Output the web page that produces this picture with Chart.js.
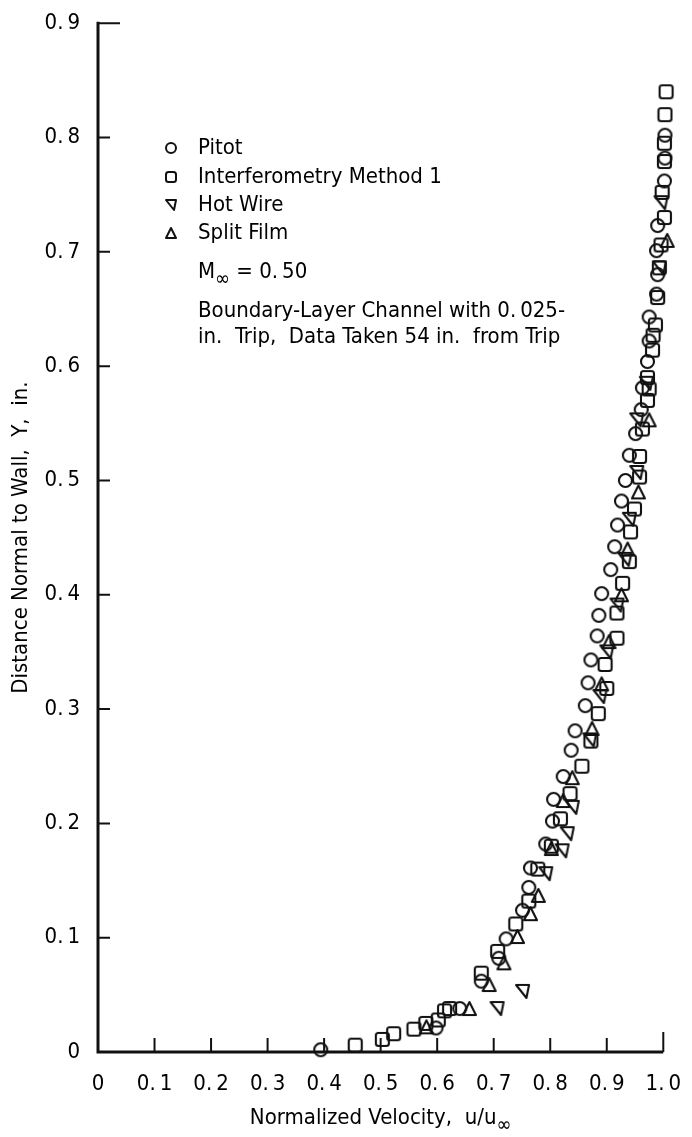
<!DOCTYPE html>
<html>
<head>
<meta charset="utf-8">
<script src="https://cdn.jsdelivr.net/npm/chart.js@4.4.0/dist/chart.umd.min.js"></script>
<style>
  html, body { margin: 0; padding: 0; background: #fff; }
  #wrap { width: 692px; height: 1137px; position: relative; }
</style>
</head>
<body>
<div id="wrap"><canvas id="c"></canvas></div>
<script>
// velocity profile, M = 0.50 boundary-layer channel

const xTicks = [0, 0.1, 0.2, 0.3, 0.4, 0.5, 0.6, 0.7, 0.8, 0.9, 1.0];
const yTicks = [0, 0.1, 0.2, 0.3, 0.4, 0.5, 0.6, 0.7, 0.8, 0.9];

const pitot = [
  [0.394, 0.002], [0.598, 0.021], [0.640, 0.038], [0.678, 0.062], [0.709, 0.082],
  [0.722, 0.099], [0.751, 0.124], [0.762, 0.144], [0.765, 0.161], [0.792, 0.182],
  [0.804, 0.202], [0.806, 0.221], [0.823, 0.241], [0.837, 0.264], [0.844, 0.281],
  [0.862, 0.303], [0.867, 0.323], [0.872, 0.343], [0.883, 0.364], [0.886, 0.382],
  [0.891, 0.401], [0.907, 0.422], [0.914, 0.442], [0.919, 0.461], [0.926, 0.482],
  [0.933, 0.500], [0.940, 0.522], [0.951, 0.541], [0.961, 0.562], [0.963, 0.581],
  [0.972, 0.604], [0.975, 0.622], [0.975, 0.643], [0.988, 0.663], [0.990, 0.680],
  [0.988, 0.701], [0.990, 0.723], [1.002, 0.762], [1.003, 0.782], [1.003, 0.802]
];

const interferometry = [
  [0.455, 0.006], [0.503, 0.011], [0.523, 0.016], [0.559, 0.020], [0.580, 0.025],
  [0.602, 0.028], [0.613, 0.036], [0.622, 0.038], [0.678, 0.069], [0.707, 0.088],
  [0.739, 0.112], [0.762, 0.132], [0.778, 0.160], [0.802, 0.180], [0.818, 0.204],
  [0.835, 0.226], [0.856, 0.250], [0.872, 0.272], [0.885, 0.296], [0.900, 0.318],
  [0.897, 0.339], [0.918, 0.362], [0.918, 0.384], [0.928, 0.410], [0.940, 0.429],
  [0.942, 0.455], [0.949, 0.475], [0.958, 0.503], [0.958, 0.521], [0.963, 0.545],
  [0.972, 0.570], [0.975, 0.580], [0.972, 0.590], [0.981, 0.614], [0.982, 0.627],
  [0.986, 0.636], [0.990, 0.660], [0.993, 0.686], [0.996, 0.706], [1.002, 0.730],
  [0.998, 0.752], [1.002, 0.779], [1.002, 0.795], [1.003, 0.820], [1.005, 0.840]
];

const hotWire = [
  [0.706, 0.038], [0.751, 0.053], [0.792, 0.156], [0.821, 0.176], [0.830, 0.191],
  [0.839, 0.214], [0.870, 0.273], [0.888, 0.311], [0.900, 0.350], [0.918, 0.391],
  [0.932, 0.431], [0.940, 0.466], [0.953, 0.507], [0.953, 0.553], [0.970, 0.585],
  [0.993, 0.686], [0.996, 0.743]
];

const splitFilm = [
  [0.581, 0.022], [0.657, 0.038], [0.692, 0.059], [0.718, 0.078], [0.742, 0.101],
  [0.765, 0.121], [0.779, 0.137], [0.802, 0.178], [0.823, 0.220], [0.839, 0.240],
  [0.874, 0.283], [0.891, 0.322], [0.904, 0.359], [0.926, 0.400], [0.937, 0.440],
  [0.956, 0.490], [0.975, 0.553], [1.007, 0.710]
];

const seriesNames = ['Pitot', 'Interferometry Method 1', 'Hot Wire', 'Split Film'];
const noteLines = ['Boundary-Layer Channel with 0.\u2009025-', 'in.  Trip,  Data Taken 54 in.  from Trip'];

const INK = '#000';
const FONT = "'Liberation Sans Narrow', 'DejaVu Sans Condensed', 'Arial Narrow', sans-serif";
const FS = 22;

function marker(kind, s, lw) {
  const pad = 2, n = s + pad * 2;
  const c = document.createElement('canvas');
  c.width = n; c.height = n;
  const g = c.getContext('2d');
  g.strokeStyle = '#111';
  g.lineWidth = lw;
  g.lineJoin = 'round';
  const a = pad, b = pad + s;
  g.beginPath();
  if (kind === 'circle') g.arc(n / 2, n / 2, s / 2, 0, Math.PI * 2);
  else if (kind === 'square') g.roundRect(a, a, s, s, 2.5);
  else if (kind === 'down') { g.moveTo(a, a); g.lineTo(b, a); g.lineTo(a + s * 0.8, b); g.closePath(); }
  else { g.moveTo(n / 2, a); g.lineTo(b, b); g.lineTo(a, b); g.closePath(); }
  g.stroke();
  return c;
}

const kinds = ['circle', 'square', 'down', 'up'];
const bigMarks = kinds.map(k => marker(k, 13, 2.1));
const smallMarks = kinds.map(k => marker(k, 10, 2));

function fmt(v) {
  if (Math.abs(v) < 1e-9) return '0';
  return v.toFixed(1).replace('.', '.\u2009');
}

// draws "text" followed by a subscript infinity, returns nothing
function withSub(ctx, text, sub, x, y) {
  ctx.font = FS + 'px ' + FONT;
  ctx.fillText(text, x, y);
  const w = ctx.measureText(text).width;
  ctx.font = '20px ' + FONT;
  ctx.fillText(sub, x + w, y + 8);
  const w2 = ctx.measureText(sub).width;
  ctx.font = FS + 'px ' + FONT;
  return w + w2;
}

const frame = {
  id: 'frame',
  beforeDatasetsDraw(chart) {
    const { ctx, chartArea: ca, scales: { x, y } } = chart;
    ctx.save();
    ctx.strokeStyle = '#111';
    ctx.lineWidth = 3;
    ctx.beginPath();
    ctx.moveTo(ca.left, y.getPixelForValue(0.9) - 1.5);
    ctx.lineTo(ca.left, y.getPixelForValue(0));
    ctx.lineTo(x.getPixelForValue(1.0), y.getPixelForValue(0));
    ctx.stroke();
    ctx.lineWidth = 2;
    ctx.beginPath();
    yTicks.slice(1).forEach(v => {
      const py = y.getPixelForValue(v);
      ctx.moveTo(ca.left, py);
      ctx.lineTo(ca.left + (v > 0.85 ? 22 : 12), py);
    });
    xTicks.slice(1).forEach(v => {
      const px = x.getPixelForValue(v);
      ctx.moveTo(px, ca.bottom);
      ctx.lineTo(px, ca.bottom - (v > 0.95 ? 20 : 14));
    });
    ctx.stroke();
    ctx.restore();
  },
  afterDraw(chart) {
    const { ctx, chartArea: ca } = chart;
    ctx.save();
    ctx.fillStyle = INK;
    ctx.textBaseline = 'middle';
    ctx.font = FS + 'px ' + FONT;
    // legend
    const rows = [148, 177, 205, 233];
    seriesNames.forEach((name, i) => {
      const m = smallMarks[i];
      ctx.drawImage(m, 171 - m.width / 2, rows[i] - m.height / 2);
      ctx.fillText(name, 198, rows[i]);
    });
    // Mach number and test notes
    const wm = withSub(ctx, 'M', '\u221E', 198, 272);
    ctx.fillText(' = 0.\u200950', 198 + wm, 272);
    ctx.fillText(noteLines[0], 198, 311);
    ctx.fillText(noteLines[1], 198, 337);
    // x axis title
    const t1 = 'Normalized Velocity,  u/u';
    ctx.font = FS + 'px ' + FONT;
    const w1 = ctx.measureText(t1).width;
    ctx.font = '20px ' + FONT;
    const w2 = ctx.measureText('\u221E').width;
    const cx = (ca.left + ca.right) / 2;
    withSub(ctx, t1, '\u221E', cx - (w1 + w2) / 2, 1118);
    ctx.restore();
  }
};

const ds = (label, pts, idx) => ({
  label,
  data: pts.map(p => ({ x: p[0], y: p[1] })),
  pointStyle: bigMarks[idx],
  pointRadius: 7,
  borderColor: '#111',
  backgroundColor: 'transparent',
  showLine: false,
  clip: false
});

new Chart(document.getElementById('c'), {
  type: 'scatter',
  data: {
    datasets: [
      ds(seriesNames[0], pitot, 0),
      ds(seriesNames[1], interferometry, 1),
      ds(seriesNames[2], hotWire, 2),
      ds(seriesNames[3], splitFilm, 3)
    ]
  },
  options: {
    responsive: true,
    maintainAspectRatio: false,
    animation: false,
    events: [],
    layout: { padding: { top: 19, right: 23, left: 0, bottom: 0 } },
    plugins: { legend: { display: false }, tooltip: { enabled: false } },
    scales: {
      x: {
        type: 'linear', min: 0, max: 1,
        afterBuildTicks: s => { s.ticks = xTicks.map(v => ({ value: v })); },
        afterFit: s => { s.height = 85; },
        grid: { display: false },
        border: { display: false },
        ticks: { color: INK, font: { family: FONT, size: FS }, padding: 11, maxRotation: 0, autoSkip: false, callback: v => fmt(v) }
      },
      y: {
        type: 'linear', min: 0, max: 0.9,
        afterBuildTicks: s => { s.ticks = yTicks.map(v => ({ value: v })); },
        afterFit: s => { s.width = 98; },
        grid: { display: false },
        border: { display: false },
        title: { display: true, text: 'Distance Normal to Wall,  Y,  in.', color: INK, font: { family: FONT, size: FS }, padding: { top: 8, bottom: 0 } },
        ticks: { color: INK, font: { family: FONT, size: FS }, padding: 10, autoSkip: false, callback: v => fmt(v) }
      }
    }
  },
  plugins: [frame]
});
</script>
</body>
</html>
